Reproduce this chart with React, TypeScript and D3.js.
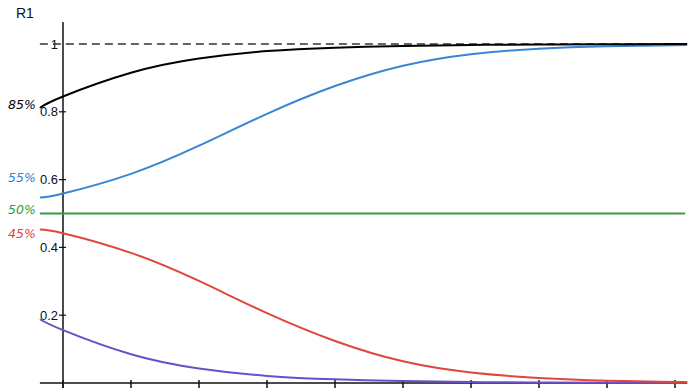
import React from "react";
import * as d3 from "d3";

const W = 690;
const H = 392;

// x positions (axis units: tick spacing = 1)
const xs = [-0.34, 0, 1, 2, 3, 4, 5, 6, 7, 8, 9, 9.15];
const blackVals = [0.812, 0.845, 0.915, 0.957, 0.979, 0.989, 0.994, 0.997, 0.9985, 0.9993, 0.9997, 0.9997];
const blueVals = [0.547, 0.559, 0.617, 0.70, 0.794, 0.876, 0.936, 0.97, 0.986, 0.993, 0.9966, 0.997];
const redVals = [0.453, 0.442, 0.384, 0.301, 0.206, 0.124, 0.064, 0.031, 0.015, 0.007, 0.003, 0.003];
const purpleVals = [0.188, 0.156, 0.085, 0.043, 0.021, 0.011, 0.006, 0.003, 0.0015, 0.0007, 0.0003, 0.0003];
const greenValue = 0.5;
const refValue = 1;

const xTicks = [0, 1, 2, 3, 4, 5, 6, 7, 8, 9];
const yTicks = [0.2, 0.4, 0.6, 0.8];
const yTickLabels = ["0.2", "0.4", "0.6", "0.8"];

const sideLabels = [
  { text: "85%", value: 0.82, color: "#000000" },
  { text: "55%", value: 0.605, color: "#2f80d0" },
  { text: "50%", value: 0.51, color: "#2f9a3a" },
  { text: "45%", value: 0.44, color: "#e0463c" },
];

const title = "R1";

export default function App() {
  const x = d3.scaleLinear().domain([0, 9]).range([63, 675]);
  const y = d3.scaleLinear().domain([0, 1]).range([383, 44]);
  const xMin = -0.34;
  const xMax = 9.15;

  const line = d3
    .line<[number, number]>()
    .x((d) => x(d[0]))
    .y((d) => y(d[1]))
    .curve(d3.curveNatural);

  const mk = (vals: number[]) => line(xs.map((xv, i) => [xv, vals[i]] as [number, number])) || "";

  const series = [
    { vals: purpleVals, color: "#6a50c8" },
    { vals: redVals, color: "#e0463c" },
    { vals: blueVals, color: "#3a86d2" },
    { vals: blackVals, color: "#000000" },
  ];

  const font = "'Liberation Sans', Arial, sans-serif";
  const labelFont = "'DejaVu Sans', sans-serif";

  return (
    <svg
      width={W}
      height={H}
      style={{ position: "absolute", left: 0, top: 0, background: "#fff" }}
    >
      {/* x axis */}
      <line x1={x(xMin)} x2={x(xMax) + 2} y1={y(0)} y2={y(0)} stroke="#111" strokeWidth={1.5} />
      {xTicks.map((t) => (
        <line key={t} x1={x(t)} x2={x(t)} y1={y(0) - 3} y2={y(0) + 5} stroke="#111" strokeWidth={1.5} />
      ))}
      {/* y axis */}
      <line x1={x(0)} x2={x(0)} y1={22} y2={y(0) + 5} stroke="#111" strokeWidth={1.5} />
      {yTicks.map((t, i) => (
        <g key={t}>
          <line x1={x(0) - 4} x2={x(0) + 3} y1={y(t)} y2={y(t)} stroke="#111" strokeWidth={1.2} />
          <text
            x={x(0) - 5}
            y={y(t)}
            dy="0.35em"
            textAnchor="end"
            fontFamily={font}
            fontSize={13}
            fill="#111"
          >
            {yTickLabels[i]}
          </text>
        </g>
      ))}
      <text x={x(0) - 5} y={y(1)} dy="0.35em" textAnchor="end" fontFamily={font} fontSize={13} fill="#111">
        1
      </text>

      {/* reference dashed line */}
      <line
        x1={x(xMin)}
        x2={x(xMax)}
        y1={y(refValue)}
        y2={y(refValue)}
        stroke="#333"
        strokeWidth={1.5}
        strokeDasharray="8,5"
      />
      {/* green constant */}
      <line
        x1={x(xMin)}
        x2={x(xMax)}
        y1={y(greenValue)}
        y2={y(greenValue)}
        stroke="#3a9a46"
        strokeWidth={2}
      />

      {series.map((s, i) => (
        <path key={i} d={mk(s.vals)} fill="none" stroke={s.color} strokeWidth={2} />
      ))}

      {sideLabels.map((l) => (
        <text
          key={l.text}
          x={8}
          y={y(l.value)}
          dy="0.35em"
          fontFamily={labelFont}
          fontStyle="italic"
          fontSize={12.5}
          fill={l.color}
        >
          {l.text}
        </text>
      ))}

      <text x={16} y={18} fontFamily={font} fontSize={14} fill="#111">
        {title}
      </text>
    </svg>
  );
}
